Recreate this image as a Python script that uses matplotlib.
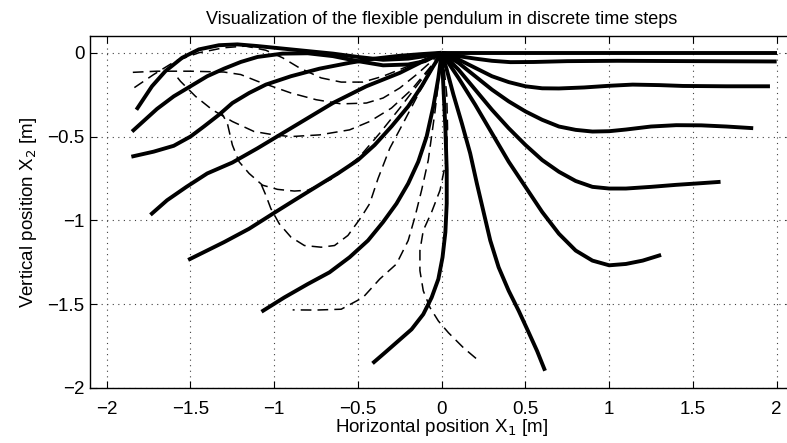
import matplotlib
matplotlib.use("Agg")
import matplotlib.pyplot as plt

plt.rcParams['font.family'] = ['Liberation Sans', 'DejaVu Sans']

# Solid snapshots (x1, x2) of the pendulum shape
solid_x = [
    [0, 2.0],
    [0, 0.1, 0.2, 0.3, 0.41, 0.55, 0.75, 1.05, 1.5, 2.0],
    [0, 0.1, 0.2, 0.3, 0.4, 0.5, 0.6, 0.7, 0.85, 1.0, 1.14, 1.3, 1.44, 1.7, 1.96],
    [0, 0.1, 0.2, 0.3, 0.4, 0.5, 0.6, 0.7, 0.8, 0.9, 1.0, 1.1, 1.25, 1.4, 1.55, 1.7, 1.86],
    [0, 0.1, 0.2, 0.3, 0.4, 0.5, 0.6, 0.7, 0.8, 0.9, 1.0, 1.1, 1.25, 1.4, 1.55, 1.665],
    [0, 0.1, 0.2, 0.3, 0.4, 0.5, 0.6, 0.7, 0.8, 0.9, 1.0, 1.1, 1.2, 1.31],
    [0, 0.03, 0.07, 0.12, 0.17, 0.21, 0.25, 0.29, 0.34, 0.4, 0.46, 0.52, 0.57, 0.617],
    [0, 0.01, 0.022, 0.03, 0.03, 0.022, 0.005, -0.02, -0.06, -0.11, -0.18, -0.26, -0.34, -0.413],
    [0, -0.02, -0.05, -0.09, -0.14, -0.2, -0.27, -0.35, -0.44, -0.55, -0.67, -0.8, -0.94, -1.076],
    [0, -0.05, -0.12, -0.2, -0.3, -0.4, -0.5, -0.62, -0.75, -0.88, -1.0, -1.15, -1.3, -1.514],
    [0, -0.1, -0.25, -0.35, -0.45, -0.55, -0.65, -0.8, -0.95, -1.1, -1.25, -1.4, -1.524, -1.64, -1.739],
    [0, -0.12, -0.25, -0.4, -0.55, -0.73, -0.9, -1.05, -1.15, -1.25, -1.33, -1.42, -1.5, -1.6, -1.72, -1.853],
    [0, -0.1, -0.2, -0.35, -0.5, -0.65, -0.8, -0.95, -1.1, -1.2, -1.3, -1.4, -1.5, -1.6, -1.7, -1.849],
    [0, -0.1, -0.2, -0.35, -0.5, -0.65, -0.8, -0.95, -1.1, -1.22, -1.33, -1.45, -1.55, -1.65, -1.73, -1.823],
]
solid_y = [
    [0, 0.0],
    [0, -0.02, -0.035, -0.048, -0.056, -0.055, -0.05, -0.048, -0.05, -0.052],
    [0, -0.04, -0.09, -0.14, -0.175, -0.2, -0.212, -0.213, -0.207, -0.197, -0.19, -0.193, -0.198, -0.2, -0.2],
    [0, -0.06, -0.14, -0.22, -0.29, -0.35, -0.4, -0.44, -0.46, -0.47, -0.468, -0.458, -0.44, -0.432, -0.433, -0.44, -0.45],
    [0, -0.1, -0.22, -0.34, -0.45, -0.55, -0.64, -0.71, -0.765, -0.8, -0.81, -0.81, -0.8, -0.788, -0.778, -0.77],
    [0, -0.15, -0.31, -0.48, -0.65, -0.8, -0.95, -1.08, -1.18, -1.24, -1.268, -1.26, -1.24, -1.206],
    [0, -0.1, -0.25, -0.42, -0.6, -0.78, -0.95, -1.12, -1.28, -1.42, -1.54, -1.67, -1.78, -1.897],
    [0, -0.2, -0.45, -0.7, -0.9, -1.07, -1.22, -1.35, -1.46, -1.56, -1.65, -1.72, -1.79, -1.853],
    [0, -0.15, -0.32, -0.5, -0.65, -0.78, -0.9, -1.01, -1.12, -1.22, -1.31, -1.38, -1.46, -1.545],
    [0, -0.08, -0.2, -0.32, -0.44, -0.55, -0.64, -0.72, -0.8, -0.88, -0.955, -1.05, -1.13, -1.236],
    [0, -0.045, -0.12, -0.16, -0.2, -0.25, -0.3, -0.39, -0.48, -0.57, -0.655, -0.72, -0.8, -0.88, -0.967],
    [0, -0.008, -0.018, -0.035, -0.06, -0.095, -0.14, -0.19, -0.24, -0.3, -0.37, -0.44, -0.5, -0.555, -0.59, -0.62],
    [0, -0.05, -0.07, -0.075, -0.05, -0.02, -0.003, -0.005, -0.025, -0.055, -0.095, -0.14, -0.2, -0.26, -0.335, -0.47],
    [0, -0.02, -0.035, -0.042, -0.025, -0.005, 0.01, 0.025, 0.04, 0.05, 0.045, 0.02, -0.03, -0.11, -0.2, -0.34],
]

# Dashed intermediate snapshots
dashed_x = [
    [0, -0.06, -0.15, -0.25, -0.35, -0.45, -0.6, -0.75, -0.9, -1.0, -1.1, -1.2, -1.3, -1.5, -1.7, -1.87],
    [0, -0.08, -0.2, -0.35, -0.47, -0.6, -0.72, -0.85, -0.95, -1.05, -1.17, -1.3, -1.45, -1.59, -1.72, -1.853],
    [0, -0.08, -0.18, -0.3, -0.43, -0.55, -0.73, -0.9, -1.0, -1.12, -1.25, -1.37, -1.47, -1.56, -1.6],
    [0, -0.12, -0.25, -0.37, -0.49, -0.65, -0.8, -0.88, -0.98, -1.07, -1.15, -1.21, -1.25, -1.28, -1.32],
    [0, -0.12, -0.23, -0.31, -0.38, -0.43, -0.48, -0.56, -0.64, -0.72, -0.82, -0.9, -0.97, -1.02, -1.05, -1.08],
    [0, -0.01, -0.04, -0.08, -0.12, -0.16, -0.2, -0.27, -0.37, -0.47, -0.6, -0.75, -0.89],
    [0, 0.015, 0.03, 0.035, 0.025, -0.01, -0.06, -0.11, -0.13, -0.13, -0.11, -0.07, -0.02, 0.04, 0.13, 0.228],
]
dashed_y = [
    [0, -0.05, -0.13, -0.21, -0.27, -0.3, -0.305, -0.28, -0.24, -0.205, -0.17, -0.13, -0.115, -0.11, -0.11, -0.118],
    [0, -0.03, -0.08, -0.14, -0.175, -0.175, -0.15, -0.09, -0.03, 0.015, 0.04, 0.03, 0.0, -0.05, -0.13, -0.22],
    [0, -0.1, -0.22, -0.33, -0.41, -0.46, -0.49, -0.5, -0.49, -0.47, -0.41, -0.34, -0.26, -0.17, -0.12],
    [0, -0.16, -0.33, -0.48, -0.62, -0.75, -0.82, -0.825, -0.815, -0.79, -0.72, -0.65, -0.55, -0.42, -0.35],
    [0, -0.21, -0.42, -0.57, -0.75, -0.9, -0.98, -1.09, -1.15, -1.16, -1.15, -1.1, -1.02, -0.93, -0.85, -0.78],
    [0, -0.1, -0.35, -0.64, -0.82, -0.98, -1.12, -1.26, -1.35, -1.46, -1.53, -1.535, -1.534],
    [0, -0.1, -0.25, -0.45, -0.65, -0.82, -0.95, -1.06, -1.18, -1.3, -1.42, -1.52, -1.6, -1.67, -1.76, -1.843],
]

x_ticks = [-2, -1.5, -1, -0.5, 0, 0.5, 1, 1.5, 2]
x_ticklabels = ['\u22122', '\u22121.5', '\u22121', '\u22120.5', '0', '0.5', '1', '1.5', '2']
y_ticks = [-2, -1.5, -1, -0.5, 0]
y_ticklabels = ['\u22122', '\u22121.5', '\u22121', '\u22120.5', '0']

fig = plt.figure(figsize=(7.87, 4.43), dpi=100)
ax = fig.add_axes([90 / 787, 55 / 443, 703.4 / 787, 352 / 443])

for xs, ys in zip(dashed_x, dashed_y):
    ax.plot(xs, ys, color='black', lw=1.1, linestyle=(0, (7, 4)),
            solid_joinstyle='round', dash_joinstyle='round')
for xs, ys in zip(solid_x, solid_y):
    ax.plot(xs, ys, color='black', lw=2.8, solid_joinstyle='round',
            solid_capstyle='butt')

ax.set_xlim(-2.1, 2.1)
ax.set_ylim(-2, 0.1)
ax.set_xticks(x_ticks)
ax.set_xticklabels(x_ticklabels)
ax.set_yticks(y_ticks)
ax.set_yticklabels(y_ticklabels)
ax.tick_params(direction='in', length=5, width=0.8, top=True, right=True,
               labelsize=13.5)
ax.tick_params(axis='x', pad=9)
ax.tick_params(axis='y', pad=4)
ax.grid(True, linestyle=(0, (1, 4)), color='0.25', lw=0.8)
for s in ax.spines.values():
    s.set_linewidth(1.0)

ax.set_title('Visualization of the flexible pendulum in discrete time steps',
             fontsize=13, pad=9)
ax.set_xlabel('Horizontal position X$_1$ [m]', fontsize=13.5, labelpad=0)
ax.set_ylabel('Vertical position X$_2$ [m]', fontsize=13.5, labelpad=6)

fig.savefig('out.png', dpi=100)
